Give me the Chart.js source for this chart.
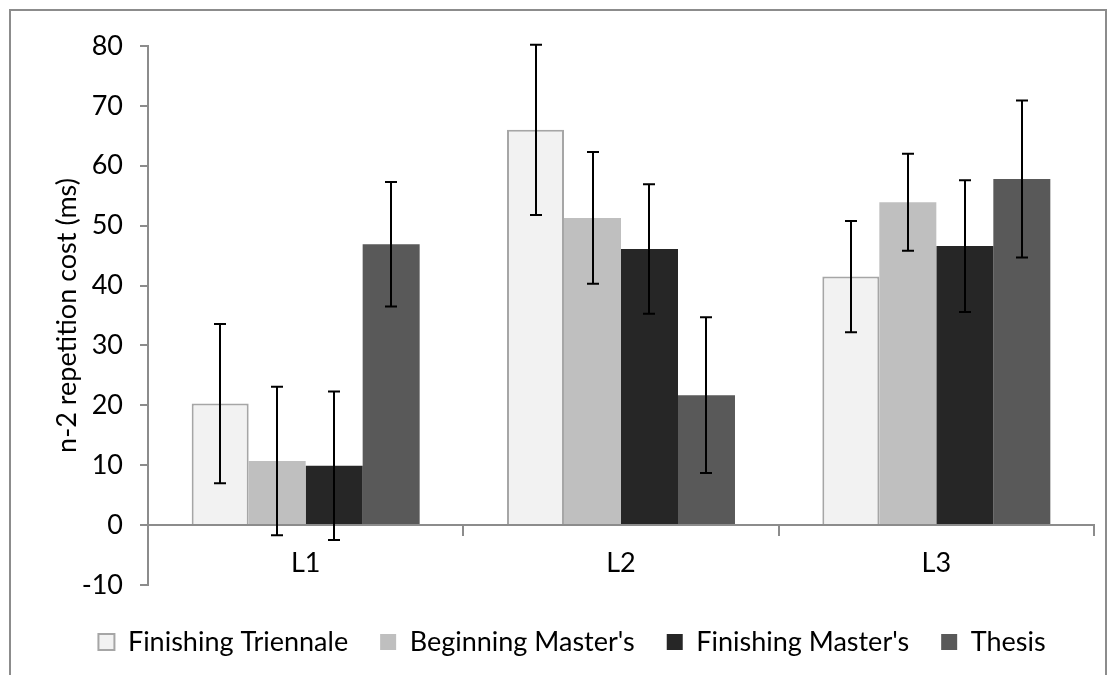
<!DOCTYPE html>
<html>
<head>
<meta charset="utf-8">
<script src="https://cdn.jsdelivr.net/npm/chart.js@4/dist/chart.umd.min.js"></script>
<style>
  html, body { margin: 0; padding: 0; background: #fff; overflow: hidden; }
  #wrap { position: relative; width: 1118px; height: 675px; overflow: hidden; }
  #frame { position: absolute; left: 9px; top: 9px; width: 1098px; height: 800px; border: 2px solid #8c8c8c; box-sizing: border-box; }
  #c { position: absolute; left: 0; top: 0; }
</style>
</head>
<body>
<div id="wrap">
  <div id="frame"></div>
  <canvas id="c" width="1118" height="675"></canvas>
</div>
<script>
const categories = ['L1', 'L2', 'L3'];
const seriesNames = ['Finishing Triennale', "Beginning Master's", "Finishing Master's", 'Thesis'];

const finishingTriennale = [20.3, 66.0, 41.5];
const beginningMasters   = [10.7, 51.3, 53.9];
const finishingMasters   = [9.9, 46.1, 46.6];
const thesis             = [46.9, 21.7, 57.8];

const finishingTriennaleErr = [13.3, 14.2, 9.3];
const beginningMastersErr   = [12.4, 11.0, 8.1];
const finishingMastersErr   = [12.4, 10.8, 11.0];
const thesisErr             = [10.4, 13.0, 13.1];

const yTickMin = -10;
const yTickMax = 80;
const yTickStep = 10;

const errorBarPlugin = {
  id: 'errorBars',
  afterDatasetsDraw(chart) {
    const ctx = chart.ctx;
    const yScale = chart.scales.y;
    chart.data.datasets.forEach((ds, di) => {
      const meta = chart.getDatasetMeta(di);
      meta.data.forEach((bar, i) => {
        const v = ds.data[i], e = ds.errors[i];
        const x = Math.round(bar.x);
        const yHi = yScale.getPixelForValue(v + e);
        const yLo = yScale.getPixelForValue(v - e);
        ctx.save();
        ctx.strokeStyle = '#000';
        ctx.lineWidth = 2;
        ctx.beginPath();
        ctx.moveTo(x, yHi); ctx.lineTo(x, yLo);
        ctx.moveTo(x - 6, yHi); ctx.lineTo(x + 6, yHi);
        ctx.moveTo(x - 6, yLo); ctx.lineTo(x + 6, yLo);
        ctx.stroke();
        ctx.restore();
      });
    });
  }
};

Chart.defaults.font.family = 'Lato, "Open Sans", sans-serif';
Chart.defaults.font.size = 27;
Chart.defaults.color = '#000';

const axisColor = '#8c8c8c';

new Chart(document.getElementById('c'), {
  type: 'bar',
  data: {
    labels: categories,
    datasets: [
      { label: seriesNames[0], data: finishingTriennale, errors: finishingTriennaleErr, backgroundColor: '#f2f2f2', borderColor: '#a6a6a6', borderWidth: 2 },
      { label: seriesNames[1], data: beginningMasters, errors: beginningMastersErr, backgroundColor: '#bfbfbf', borderWidth: 0 },
      { label: seriesNames[2], data: finishingMasters, errors: finishingMastersErr, backgroundColor: '#262626', borderWidth: 0 },
      { label: seriesNames[3], data: thesis, errors: thesisErr, backgroundColor: '#595959', borderWidth: 0 }
    ]
  },
  options: {
    responsive: false,
    animation: false,
    devicePixelRatio: 1,
    layout: { padding: { left: 50, right: 24, top: 46, bottom: 9.5 } },
    datasets: { bar: { categoryPercentage: 0.723, barPercentage: 1.0 } },
    scales: {
      x: {
        position: { y: 0 },
        grid: { drawOnChartArea: false, drawTicks: true, tickLength: 10, color: axisColor, lineWidth: 2 },
        border: { display: true, color: axisColor, width: 2 },
        ticks: { padding: 12, color: '#000' }
      },
      y: {
        min: yTickMin, max: yTickMax,
        afterFit(scale) { scale.width = 98; },
        ticks: { stepSize: yTickStep, padding: 17, color: '#000' },
        grid: { drawOnChartArea: false, tickLength: 8, color: axisColor, lineWidth: 2 },
        border: { display: true, color: axisColor, width: 2 },
        title: { display: true, text: 'n-2 repetition cost (ms)', color: '#000', padding: { top: 1, bottom: 0 } }
      }
    },
    plugins: {
      tooltip: { enabled: false },
      legend: {
        position: 'bottom',
        title: { display: true, text: '', font: { size: 1, lineHeight: 1 }, padding: { top: 5.25, bottom: 5.25 } },
        labels: { boxWidth: 16, boxHeight: 16, padding: 32, color: '#000' }
      }
    }
  },
  plugins: [errorBarPlugin]
});
</script>
</body>
</html>
